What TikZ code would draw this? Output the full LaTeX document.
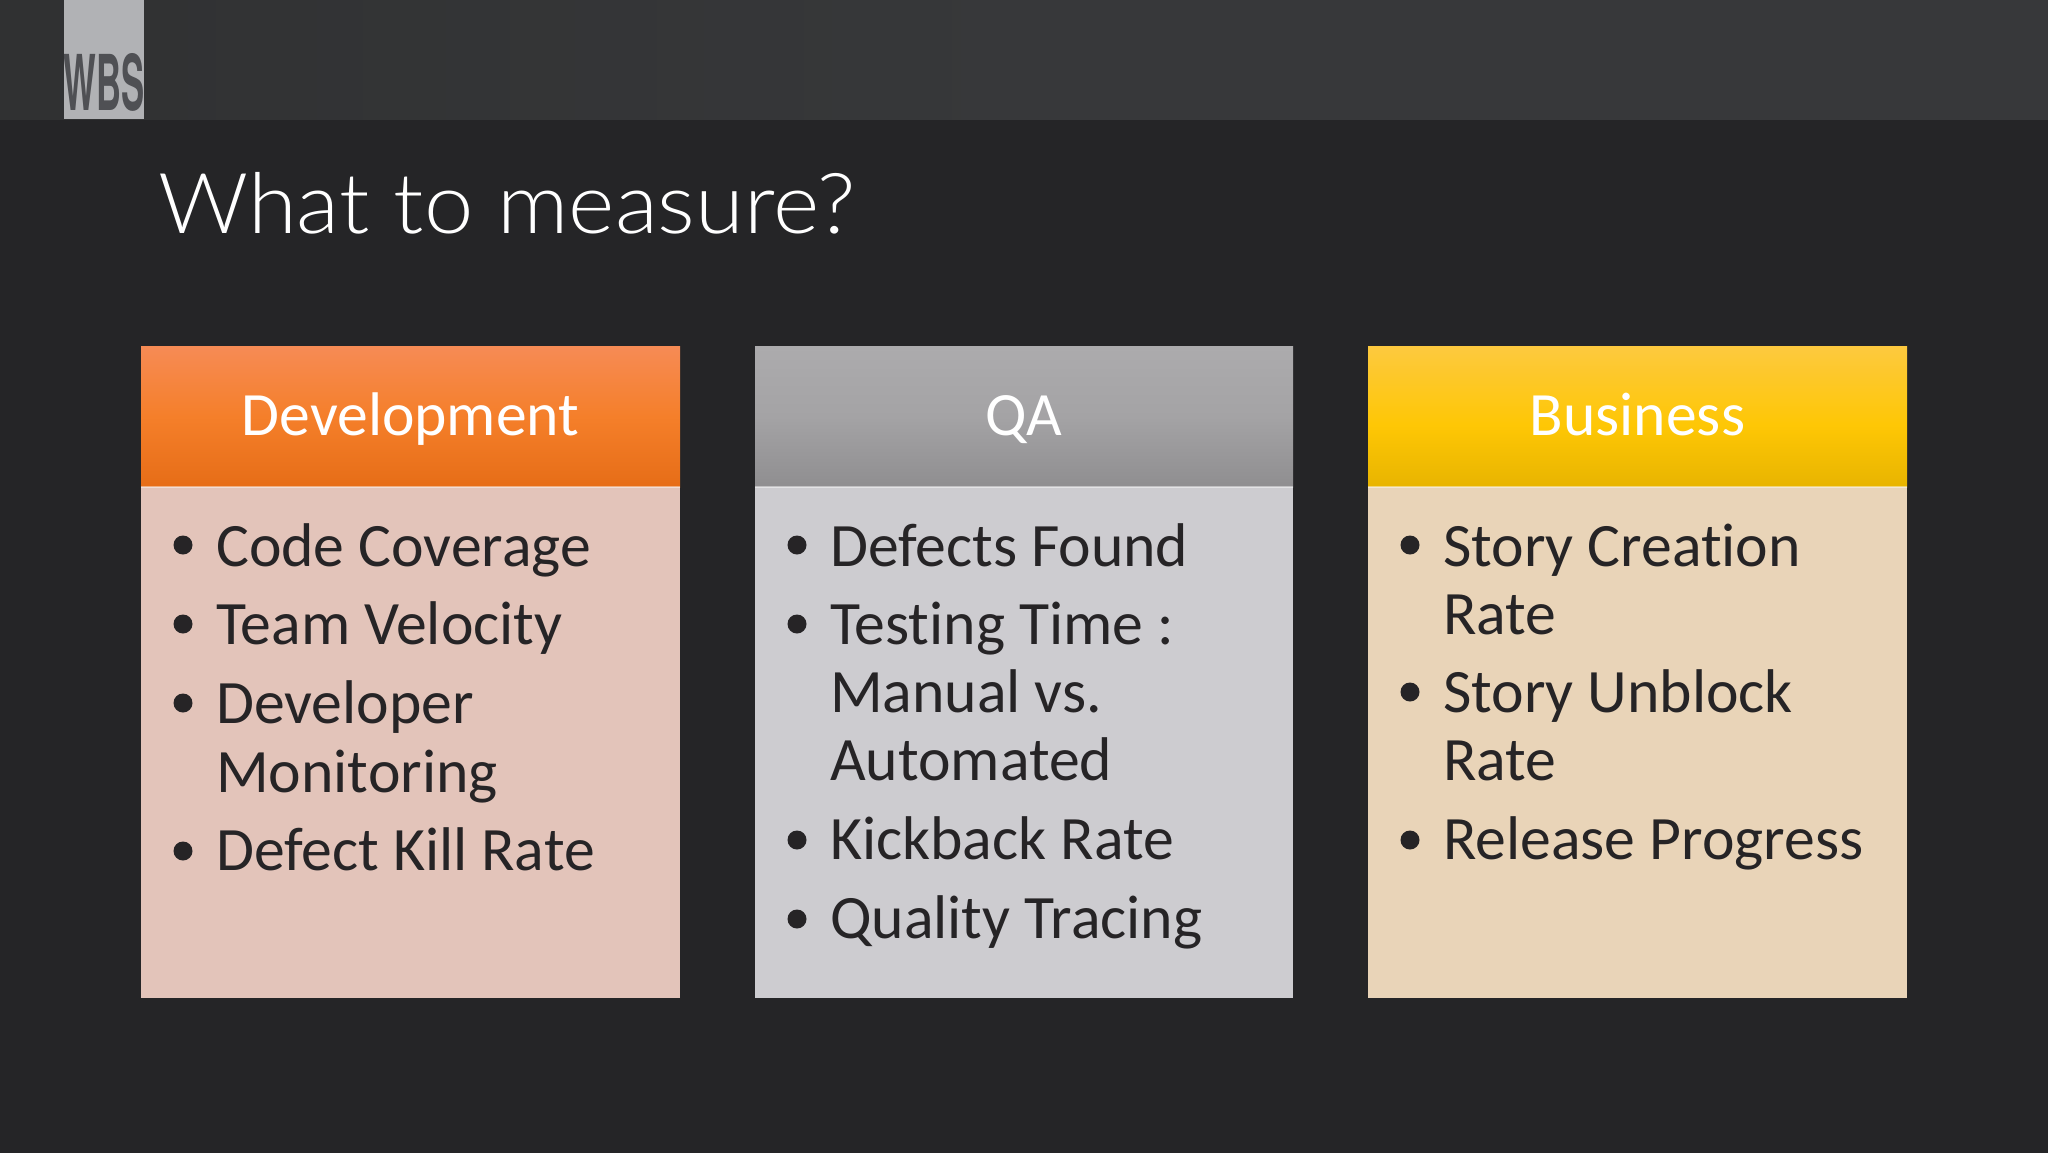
\documentclass[tikz,border=0pt]{standalone}
\usepackage{fontspec}
\setmainfont{Carlito}[Ligatures=NoCommon]
\newfontfamily\logofont{TeX Gyre Heros}
\newfontfamily\titlefont{Lato Light}
\definecolor{bgdark}{HTML}{252527}
\definecolor{bandl}{HTML}{303132}
\definecolor{bandm}{HTML}{37383A}
\definecolor{logobg}{HTML}{B1B2B5}
\definecolor{logofg}{HTML}{4F5054}
\definecolor{txt}{HTML}{262426}
\definecolor{odt}{HTML}{F68B55}
\definecolor{odm}{HTML}{F57F2A}
\definecolor{odb}{HTML}{E66D17}
\definecolor{gyt}{HTML}{ACABAD}
\definecolor{gym}{HTML}{A4A3A5}
\definecolor{gyb}{HTML}{8F8E90}
\definecolor{ywt}{HTML}{FDC93F}
\definecolor{ywm}{HTML}{FEC705}
\definecolor{ywb}{HTML}{E8B400}
\definecolor{bodyo}{HTML}{E3C4BA}
\definecolor{bodyg}{HTML}{CDCCD0}
\definecolor{bodyy}{HTML}{E9D4B8}
\pgfdeclareverticalshading{odshade}{100bp}{color(0bp)=(odb); color(25bp)=(odb); color(50bp)=(odm); color(75bp)=(odt); color(100bp)=(odt)}
\pgfdeclareverticalshading{gyshade}{100bp}{color(0bp)=(gyb); color(25bp)=(gyb); color(50bp)=(gym); color(75bp)=(gyt); color(100bp)=(gyt)}
\pgfdeclareverticalshading{ywshade}{100bp}{color(0bp)=(ywb); color(25bp)=(ywb); color(47bp)=(ywm); color(75bp)=(ywt); color(100bp)=(ywt)}
\tikzset{
  x=1pt,y=-1pt,
  titletext/.style={anchor=base west,inner sep=0pt,text=white,xscale=1.055,font=\titlefont\fontsize{84}{84}\selectfont},
  headtext/.style={anchor=base,inner sep=0pt,text=white,font=\fontsize{61.6}{61.6}\selectfont},
  bodytext/.style={anchor=base west,inner sep=0pt,text=txt,font=\fontsize{61.7}{61.7}\selectfont},
  bulletdot/.style={circle,fill=txt,inner sep=0pt,minimum size=19pt},
  headline/.style={fill=white,opacity=.45,draw=none},
}
\begin{document}
\begin{tikzpicture}
\useasboundingbox (0,0) rectangle (2048,1152);
\fill[bgdark] (-5,-5) rectangle (2055,1160);
\shade[left color=bandl,right color=bandm,middle color=bandm,shading angle=90] (-5,-5) rectangle (2055,120);
\fill[bgdark] (-5,120) rectangle (2055,122);
\fill[logobg] (64,-5) rectangle (144,119);
\begin{scope}
\clip (64,0) rectangle (144,119);
\node[anchor=base,inner sep=0pt,text=logofg,xscale=.45,font=\logofont\bfseries\fontsize{77}{77}\selectfont] (logo) at (104,110) {WBS};
\end{scope}
\node[titletext] (title) at (158,233) {What to measure?};
% Columns
\shade[shading=odshade] (141,346) rectangle (680,487);
\shade[shading=gyshade] (755,346) rectangle (1293,487);
\shade[shading=ywshade] (1368,346) rectangle (1907,487);
\fill[bodyo] (141,487) rectangle (680,998);
\fill[bodyg] (755,487) rectangle (1293,998);
\fill[bodyy] (1368,487) rectangle (1907,998);
\fill[headline] (141,486) rectangle (680,488);
\fill[headline] (755,486) rectangle (1293,488);
\fill[headline] (1368,486) rectangle (1907,488);
\node[headtext] (h1) at (410.5,435.3) {Development};
\node[headtext] (h2) at (1024,435.3) {QA};
\node[headtext] (h3) at (1637.5,435.3) {Business};
% Development
\node[bulletdot] (d1) at (183,545) {};
\node[bodytext] (c1) at (216,566) {Code Coverage};
\node[bulletdot] (d2) at (183,624) {};
\node[bodytext] (c2) at (216,644.5) {Team Velocity};
\node[bulletdot] (d3) at (183,703) {};
\node[bodytext] (c3) at (216,723.5) {Developer};
\node[bodytext] (c3b) at (216,792) {Monitoring};
\node[bulletdot] (d4) at (183,851) {};
\node[bodytext] (c4) at (216,870.5) {Defect Kill Rate};
% QA
\node[bulletdot] (q1d) at (797,545) {};
\node[bodytext] (q1) at (830,566) {Defects Found};
\node[bulletdot] (q2d) at (797,624) {};
\node[bodytext] (q2) at (830,644.5) {Testing Time :};
\node[bodytext] (q2b) at (830,712.5) {Manual vs.};
\node[bodytext] (q2c) at (830,780.5) {Automated};
\node[bulletdot] (q3d) at (797,840) {};
\node[bodytext] (q3) at (830,859.5) {Kickback Rate};
\node[bulletdot] (q4d) at (797,919) {};
\node[bodytext] (q4) at (830,938.5) {Quality Tracing};
% Business
\node[bulletdot] (b1d) at (1410,545) {};
\node[bodytext] (b1) at (1443,566) {Story Creation};
\node[bodytext] (b1b) at (1443,634) {Rate};
\node[bulletdot] (b2d) at (1410,692) {};
\node[bodytext] (b2) at (1443,712.5) {Story Unblock};
\node[bodytext] (b2b) at (1443,780.5) {Rate};
\node[bulletdot] (b3d) at (1410,840) {};
\node[bodytext] (b3) at (1443,859.5) {Release Progress};
\end{tikzpicture}
\end{document}
